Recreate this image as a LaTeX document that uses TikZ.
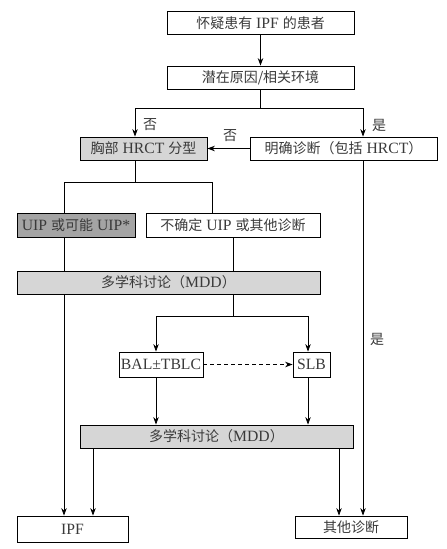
\documentclass[tikz,border=0pt]{standalone}
\usepackage{fontspec}
\setmainfont{Liberation Serif}[Scale=1.12]
\newfontfamily\cjk{Noto Sans CJK SC}
\usetikzlibrary{arrows.meta}
\definecolor{lightbox}{HTML}{D6D6D6}
\definecolor{darkbox}{HTML}{A4A4A4}
\definecolor{ink}{HTML}{3A3A3A}

\begin{document}
\begin{tikzpicture}[x=1pt,y=-1pt,
    font=\fontsize{14}{16}\selectfont,
    >={Stealth[length=7.5pt,width=5.5pt]},
    line width=0.8pt,
    box/.style={draw,inner sep=0pt,minimum height=23pt,text=ink},
    lab/.style={text=ink,inner sep=1pt}]
  \useasboundingbox (0,0) rectangle (447,549);

  % boxes
  \node[box,minimum width=187pt] (suspect) at (260.5,23) {{\cjk 怀疑患有} IPF {\cjk 的患者}};
  \node[box,minimum width=187pt] (cause) at (260.5,77.5) {\cjk 潜在原因/相关环境};
  \node[box,fill=lightbox,minimum width=127pt] (hrct) at (143.5,148.5) {{\cjk 胸部} HRCT {\cjk 分型}};
  \node[box,minimum width=187pt] (clear) at (343.5,148.5) {{\cjk 明确诊断（包括} HRCT{\cjk ）}};
  \node[box,fill=darkbox,minimum width=118pt,minimum height=24pt] (uip) at (76,225) {UIP {\cjk 或可能} UIP*};
  \node[box,minimum width=174pt,minimum height=24pt] (indet) at (233,225) {{\cjk 不确定} UIP {\cjk 或其他诊断}};
  \node[box,fill=lightbox,minimum width=303pt] (mdda) at (168.5,282.5) {{\cjk 多学科讨论（}MDD{\cjk ）}};
  \node[box,minimum width=84pt,minimum height=25pt] (bal) at (161,364.5) {BAL±TBLC};
  \node[box,minimum width=37pt,minimum height=25pt] (slb) at (311.5,364.5) {SLB};
  \node[box,fill=lightbox,minimum width=273pt] (mddb) at (216.5,436.5) {{\cjk 多学科讨论（}MDD{\cjk ）}};
  \node[box,minimum width=111pt,minimum height=26pt] (ipf) at (72.5,529) {IPF};
  \node[box,minimum width=112pt,minimum height=22pt] (other) at (351,527) {\cjk 其他诊断};

  % branch points
  \coordinate (fork) at (260.5,108);
  \coordinate (split) at (135,182);
  \coordinate (fork2) at (233,316);
  \coordinate (hrctin) at ([xshift=-8.5pt]hrct.north);
  \coordinate (hrctout) at ([xshift=-8.5pt]hrct.south);
  \coordinate (clearin) at ([xshift=19.5pt]clear.north);
  \coordinate (clearout) at ([xshift=19.5pt]clear.south);
  \coordinate (uipin) at ([xshift=-12pt]uip.north);
  \coordinate (uipout) at ([xshift=-12pt]uip.south);
  \coordinate (indetin) at ([xshift=-21pt]indet.north);
  \coordinate (balin) at ([xshift=-5pt]bal.north);
  \coordinate (balout) at ([xshift=-5pt]bal.south);
  \coordinate (slbin) at ([xshift=-3.5pt]slb.north);
  \coordinate (slbout) at ([xshift=-3.5pt]slb.south);
  \coordinate (mddleft) at ([xshift=-123.5pt]mddb.south);
  \coordinate (mddright) at ([xshift=122.5pt]mddb.south);

  % connectors
  \draw[->] (suspect) -- (cause);
  \draw (cause) -- (fork);
  \draw[->] (fork) -| (hrctin);
  \draw[->] (fork) -| (clearin);
  \draw[->] (clear) -- (hrct);
  \draw (hrctout) -- (split);
  \draw (split) -| (uipin);
  \draw (split) -| (indetin);
  \draw (uipout) -- (uipout |- mdda.north);
  \draw (indet.south) -- (indet.south |- mdda.north);
  \draw (indet.south |- mdda.south) -- (fork2);
  \draw[->] (fork2) -| (balin);
  \draw[->] (fork2) -| (slbin);
  \draw[->,dash pattern=on 4pt off 3pt] (bal) -- (slb);
  \draw[->] (balout) -- (balout |- mddb.north);
  \draw[->] (slbout) -- (slbout |- mddb.north);
  \draw[->] (uipout |- mdda.south) -- (uipout |- ipf.north);
  \draw[->] (mddleft) -- (mddleft |- ipf.north);
  \draw[->] (mddright) -- (mddright |- other.north);
  \draw[->] (clearout) -- (clearout |- other.north);

  % labels
  \node[lab] (no1) at (150,125) {\cjk 否};
  \node[lab] (no2) at (230,136) {\cjk 否};
  \node[lab] (yes1) at (379,125) {\cjk 是};
  \node[lab] (yes2) at (377,339) {\cjk 是};
\end{tikzpicture}
\end{document}
